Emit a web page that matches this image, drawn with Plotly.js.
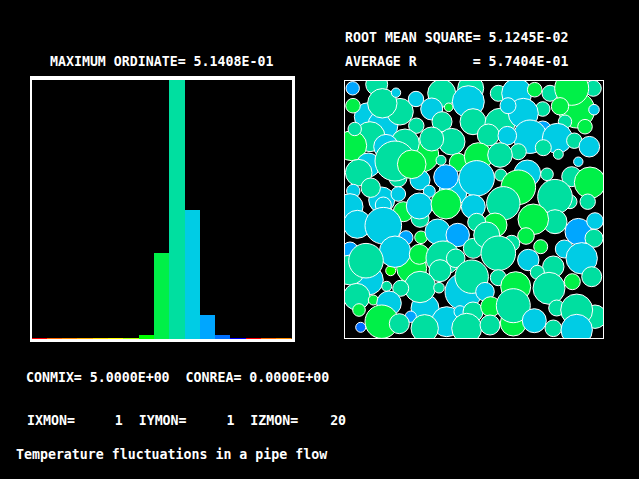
<!DOCTYPE html>
<html><head><meta charset="utf-8"><script src="https://cdn.plot.ly/plotly-3.0.1.min.js"></script>
<style>html,body{margin:0;padding:0;background:#000;overflow:hidden}</style></head><body><div id="c" style="width:639px;height:479px"></div>
<script>
const W=639,H=479;
const G='#00f048',T='#00dfa0',C='#00cce5',B='#00a6ff',D='#0070ff',L='#00ff00';
const binIndex=[0,1,2,3,4,5,6,7,8,9,10,11,12,13,14,15,16];
const binValues=[0.002,0.002,0.002,0.002,0.002,0.002,0.002,0.0079,0.1707,0.5141,0.256,0.0476,0.0079,0.002,0.002,0.002,0.002];
const binColors=['#ff0000','#ff6a00','#ff8c00','#ffb000','#ffe000','#ffff00','#b0ff00',L,G,T,C,B,D,'#0000ff','#ff0000','#ff6a00','#ff8c00'];
// circles: x, y, radius, colour, back to front
const circlesNW=[[368.3,116.7,14,C],[383,125,15,C],[376.7,84.3,11,T],[400,111.7,13.3,T],[382.3,103.3,14.7,T],[352.7,88.3,6.7,B],[396,92.7,4.7,C],[353,105.7,7.3,G],[416,99,7.7,C],[441.7,93.3,14,T],[431.7,109,11,C],[448.7,107.3,4.3,G],[470.7,88.3,13,T],[468.3,101.7,16,C],[416.3,125.7,7.7,T],[442,121.7,10,T],[473,121.7,13,T],[370,136.7,15,T],[351.7,145.7,15,G],[354.7,129,6.7,T],[421.7,155,17,G],[405,143.3,14.3,T],[386,146.7,12.3,C],[451.7,141.7,13.3,T],[431.7,139,12,T],[458.3,162.3,9,G],[441,160.3,5,T],[368.3,165,12,C],[398,178,9,T],[420,180,10,C],[395,161,20,T],[411.7,164.3,14.3,G],[358.7,172.7,13.3,T],[453,191.7,14,C],[446,177,12.3,B],[381.7,200,13,C],[370.7,187.7,9.7,T],[353.3,191,6.7,C],[398.3,194,7.3,C],[429.3,191.3,6,C],[350,206.7,13,C]];
const circlesNE=[[500,123.3,15,T],[498.3,93.3,8,T],[516.7,93.3,15,C],[534.7,89.7,7.3,G],[550,93.3,8,T],[593.3,88.3,8,T],[576.7,110,18,G],[571.7,88.3,17,G],[594,109.7,5.3,C],[560,106.3,8.7,G],[542.7,109,7.3,T],[523.3,113.3,15,C],[508,105.7,8,C],[585,126.7,7.3,G],[565,121.7,6.7,T],[542.7,130,9,B],[530,136.7,16.7,C],[557.3,138.3,15,C],[488.3,135,11,T],[507.3,135.7,9.3,C],[574.3,140.7,7.7,T],[589.3,146.7,10.3,C],[518.3,151.7,8,T],[543.3,147.7,8,T],[558.3,154.3,5,T],[478.3,156.7,14,G],[500,155,12.3,T],[578.3,161.7,4.7,C],[527.3,173.3,13.3,C],[547,174.3,6.3,T],[500.7,175,6,T],[571.7,176.7,10,T],[590,182.7,15.7,G],[476.7,178.3,17.7,C],[518.3,187.3,17.3,G],[570,201.7,7,T],[555,196.7,17.3,T],[587.7,201.7,7.7,T],[473.3,206.7,12,C],[503.3,203.3,16.7,T]];
const circlesSW=[[403.3,211.7,10,G],[420,218.3,9,T],[419.3,206,13,C],[446,204,15,G],[383.3,205,8,C],[357.3,224.3,14,C],[383.3,225.7,18.3,C],[406,237.7,7,B],[421,237.3,6.3,G],[437.7,231.7,12.7,C],[457.7,235,11.7,B],[350,250,8,B],[368.3,280,15,C],[350,270,15,T],[390.7,270.7,5,L],[411.7,268.3,15,G],[395,251.7,15.7,C],[419.3,254.3,10,G],[443,258,17,T],[366,260.7,17.3,T],[440,270.7,11,T],[455.7,258.3,9.3,T],[473.3,248.3,10,T],[425,308.3,14,C],[420,287,15.7,T],[439,287.7,5.3,T],[386.7,286.3,5,T],[400.7,288.3,8,T],[356.7,296.7,13.3,T],[373.3,300,5,G],[389,303.3,12.3,C],[359,310,6.3,G],[446.7,321.7,15,C],[463.3,291.7,18.3,C],[471.7,276.7,16.7,T],[460,311.7,6,C],[410.7,316.7,5.7,B],[381.7,321.7,16.7,G],[399.3,323.7,10,T],[360.7,327.3,5,D],[424.7,328.3,13.7,T],[473,312,10,T],[466.7,328.3,15,T]];
const circlesSE=[[495,225,12,G],[476.7,222.3,9,T],[486.7,235,13,T],[555,221.7,12,T],[533.3,219.3,15.3,G],[526,236,8.3,G],[578.3,231.7,13.3,B],[595,221,8.3,C],[594,238.3,9,T],[540.7,246.7,7,G],[564.3,249,9,C],[581.7,258.3,15.7,C],[511.7,243.3,8,T],[498.3,253.3,17.3,T],[528.3,260,10.7,C],[553.3,266.7,10.7,T],[537.3,272.3,7,T],[498.3,277.7,8,T],[591.7,276.7,10,T],[572.3,281.7,8,G],[515.7,286.7,15,G],[549,288.3,16,T],[485,291.7,9.3,C],[490.7,306.7,10,G],[513.3,323,13,G],[513.3,305.7,17,T],[556.7,308,8,T],[534.3,320.7,12,C],[595,316.7,11.7,T],[576.7,310,16,T],[553.3,328.3,8.3,T],[576.7,330,15.7,C],[490,325,10,T]];
const circles=[...circlesNW,...circlesNE,...circlesSW,...circlesSE];
const px=x=>x/W, py=y=>1-y/H;
const nb='\u00A0';
const texts=[
 ['MAXIMUM ORDINATE= 5.1408E-01',48.5,61.5],
 ['ROOT MEAN SQUARE= 5.1245E-02',343.5,37.5],
 ['AVERAGE R       = 5.7404E-01',343.5,61.5],
 ['CONMIX= 5.0000E+00  CONREA= 0.0000E+00',25,377.5],
 ['IXMON=     1  IYMON=     1  IZMON=    20',26,420.5],
 ['Temperature fluctuations in a pipe flow',15,454.5]];
const rect=(a,b,c,d)=>({type:'rect',xref:'paper',yref:'paper',x0:px(a),x1:px(c),y0:py(b),y1:py(d),fillcolor:'#fff',line:{width:0},layer:'above'});
const noax={visible:false,fixedrange:true};
Plotly.newPlot('c',[
 {type:'bar',x:binIndex,y:binValues,width:1,marker:{color:binColors,line:{width:0}},xaxis:'x',yaxis:'y',hoverinfo:'skip'},
 {type:'scatter',mode:'markers',x:circles.map(c=>c[0]),y:circles.map(c=>c[1]),marker:{size:circles.map(c=>2*c[2]),sizemode:'diameter',color:circles.map(c=>c[3]),opacity:1,line:{color:'#fff',width:1}},xaxis:'x2',yaxis:'y2',cliponaxis:true,hoverinfo:'skip'}
],{
 width:W,height:H,margin:{l:0,r:0,t:0,b:0},paper_bgcolor:'#000',plot_bgcolor:'#000',showlegend:false,bargap:0,
 xaxis:{...noax,domain:[px(31.6),px(291.6)],range:[-0.5,16.5]},
 yaxis:{...noax,domain:[py(339),py(80)],range:[0,0.5141]},
 xaxis2:{...noax,domain:[px(345),px(603)],range:[345,603]},
 yaxis2:{...noax,domain:[py(338),py(81)],range:[338,81]},
 shapes:[rect(30,76,295,80),rect(30,339,295,342),rect(30,76,32,342),rect(292,76,295,342),
  rect(344,80,604,81),rect(344,338,604,339),rect(344,80,345,339),rect(603,80,604,339)],
 annotations:texts.map(t=>({text:t[0].replace(/ /g,nb),x:px(t[1]),y:py(t[2]),xref:'paper',yref:'paper',xanchor:'left',yanchor:'middle',showarrow:false,borderpad:0,font:{family:'DejaVu Sans Mono',size:13.26,weight:700,color:'#fff'}}))
},{staticPlot:true,displayModeBar:false});
</script></body></html>
